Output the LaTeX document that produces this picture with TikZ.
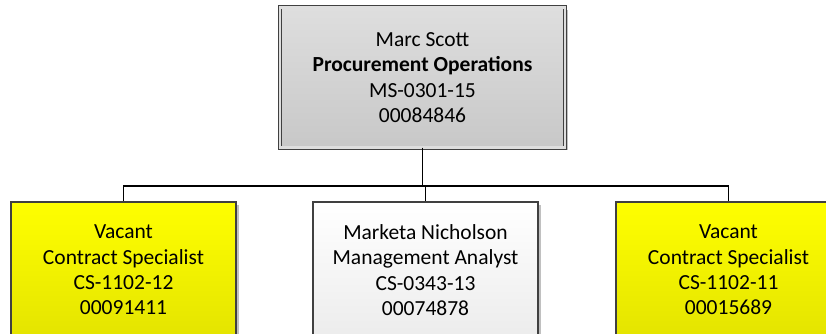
\documentclass[tikz,border=0pt]{standalone}
\usepackage{fontspec}
\setmainfont{Carlito}
\usepackage{tikz}
\usetikzlibrary{positioning,shadows}
\definecolor{bossline}{RGB}{64,64,64}
\definecolor{bosstop}{RGB}{222,222,222}
\definecolor{bossbottom}{RGB}{200,200,200}
\definecolor{vacanttop}{RGB}{255,255,0}
\definecolor{vacantbottom}{RGB}{228,228,0}
\definecolor{stafftop}{RGB}{255,255,255}
\definecolor{staffbottom}{RGB}{236,236,236}
\newcommand{\chartfont}{\fontsize{21.5}{25.3}\selectfont}
\tikzset{
  posbox/.style={draw=bossline, line width=1.3pt, align=center,
    minimum width=225pt, minimum height=136pt, inner sep=0pt,
    font=\chartfont,
    drop shadow={shadow xshift=2.5pt, shadow yshift=-2.5pt, fill=black!35, opacity=0.7}},
  bossbox/.style={posbox, minimum width=285pt, minimum height=140pt,
    top color=bosstop, bottom color=bossbottom,
    double=bosstop, double distance=2.2pt, line width=0.9pt},
  vacantbox/.style={posbox, top color=vacanttop, bottom color=vacantbottom},
  staffbox/.style={posbox, top color=stafftop, bottom color=staffbottom},
  link/.style={draw=black, line width=1.6pt}
}

\begin{document}
\begin{tikzpicture}[x=1pt,y=-1pt]
  \useasboundingbox (0,0) rectangle (826,334);
  \clip (0,0) rectangle (826,334);
  \fill[white] (0,0) rectangle (826,334);

  \node[bossbox] (boss) at (422.5,77.5)
    {Marc Scott\\\textbf{Procurement Operations}\\MS-0301-15\\00084846};

  \node[vacantbox] (vacleft) at (123.5,270)
    {Vacant\\Contract Specialist\\CS-1102-12\\00091411};
  \node[staffbox] (analyst) at (425.5,270)
    {Marketa Nicholson\\Management Analyst\\CS-0343-13\\00074878};
  \node[vacantbox] (vacright) at (728.5,270)
    {Vacant\\Contract Specialist\\CS-1102-11\\00015689};

  \draw[link] (boss.south) -- ++(0,38) -| (vacleft.north);
  \draw[link] (boss.south) -- ++(0,38) -| (analyst.north);
  \draw[link] (boss.south) -- ++(0,38) -| (vacright.north);
\end{tikzpicture}
\end{document}
